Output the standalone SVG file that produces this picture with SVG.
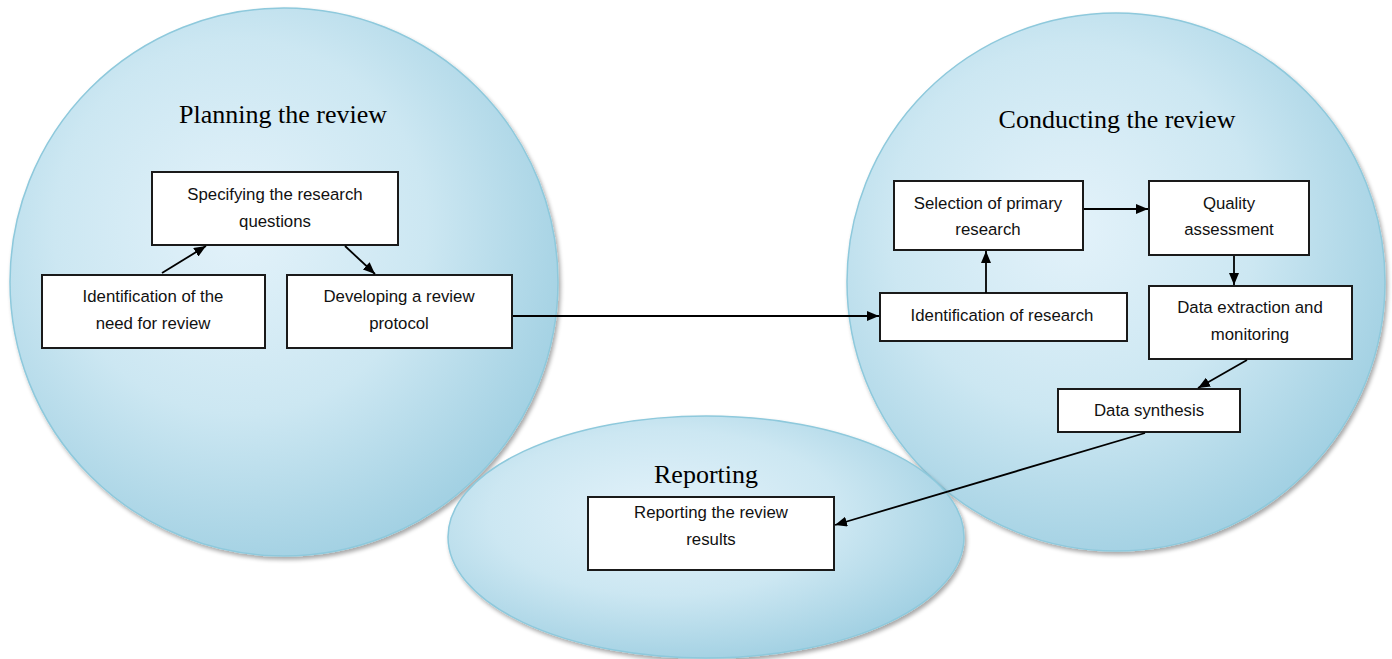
<svg xmlns="http://www.w3.org/2000/svg" width="1392" height="659" viewBox="0 0 1392 659">
<defs>
<radialGradient id="bub" cx="0.42" cy="0.4" r="0.62">
<stop offset="0" stop-color="#e3f2fa"/>
<stop offset="0.55" stop-color="#cce7f2"/>
<stop offset="1" stop-color="#a3d1e3"/>
</radialGradient>
<filter id="sh" x="-10%" y="-10%" width="120%" height="120%">
<feGaussianBlur in="SourceAlpha" stdDeviation="2"/>
<feOffset dx="2" dy="3"/>
<feComponentTransfer><feFuncA type="linear" slope="0.35"/></feComponentTransfer>
<feMerge><feMergeNode/><feMergeNode in="SourceGraphic"/></feMerge>
</filter>
<marker id="ah" viewBox="0 0 12 10" refX="12" refY="5" markerWidth="12" markerHeight="10" orient="auto" markerUnits="userSpaceOnUse">
<path d="M0,0 L12,5 L0,10 z" fill="#000"/>
</marker>
<style>
.bub{fill:url(#bub);stroke:#8ec9dc;stroke-width:1.5;filter:url(#sh)}
.box{fill:#fff;stroke:#1a1a1a;stroke-width:2}
.t{font-family:"Liberation Sans",Arial,sans-serif;font-size:16.8px;fill:#111;text-anchor:middle}
.h{font-family:"Liberation Serif","Times New Roman",serif;font-size:26px;fill:#000;text-anchor:middle}
.c{stroke:#000;stroke-width:1.8;fill:none;marker-end:url(#ah)}
</style>
</defs>
<rect width="1392" height="659" fill="#fff"/>
<g id="planning-bubble">
<circle class="bub" cx="284" cy="282" r="274"/>
<text class="h" x="283" y="123">Planning the review</text>
</g>
<g id="conducting-bubble">
<circle class="bub" cx="1116" cy="282" r="269"/>
<text class="h" x="1117" y="128">Conducting the review</text>
</g>
<g id="reporting-bubble">
<ellipse class="bub" cx="706" cy="537" rx="258" ry="121"/>
<text class="h" x="706" y="483">Reporting</text>
</g>
<g id="n-specifying">
<rect class="box" x="152" y="172" width="246" height="73"/>
<text class="t" x="275" y="200">Specifying the research</text>
<text class="t" x="275" y="227">questions</text>
</g>
<g id="n-identification-need">
<rect class="box" x="42" y="275" width="223" height="73"/>
<text class="t" x="153" y="302">Identification of the</text>
<text class="t" x="153" y="329">need for review</text>
</g>
<g id="n-developing">
<rect class="box" x="287" y="275" width="225" height="73"/>
<text class="t" x="399" y="302">Developing a review</text>
<text class="t" x="399" y="329">protocol</text>
</g>
<g id="n-selection">
<rect class="box" x="894" y="181" width="189" height="69"/>
<text class="t" x="988" y="209">Selection of primary</text>
<text class="t" x="988" y="235">research</text>
</g>
<g id="n-quality">
<rect class="box" x="1149" y="181" width="160" height="74"/>
<text class="t" x="1229" y="209">Quality</text>
<text class="t" x="1229" y="235">assessment</text>
</g>
<g id="n-identification-research">
<rect class="box" x="880" y="293" width="247" height="48"/>
<text class="t" x="1002" y="321">Identification of research</text>
</g>
<g id="n-extraction">
<rect class="box" x="1149" y="286" width="203" height="73"/>
<text class="t" x="1250" y="313">Data extraction and</text>
<text class="t" x="1250" y="340">monitoring</text>
</g>
<g id="n-synthesis">
<rect class="box" x="1058" y="389" width="182" height="43"/>
<text class="t" x="1149" y="416">Data synthesis</text>
</g>
<g id="n-reporting-results">
<rect class="box" x="588" y="497" width="246" height="73"/>
<text class="t" x="711" y="518">Reporting the review</text>
<text class="t" x="711" y="545">results</text>
</g>
<g id="connectors">
<line class="c" x1="162" y1="273" x2="206" y2="246"/>
<line class="c" x1="345" y1="246" x2="375" y2="274"/>
<line class="c" x1="513" y1="316" x2="879" y2="316"/>
<line class="c" x1="986" y1="293" x2="986" y2="251"/>
<line class="c" x1="1084" y1="209" x2="1148" y2="209"/>
<line class="c" x1="1234" y1="256" x2="1234" y2="285"/>
<line class="c" x1="1247" y1="360" x2="1198" y2="388"/>
<line class="c" x1="1145" y1="433" x2="835" y2="525"/>
</g>
</svg>
